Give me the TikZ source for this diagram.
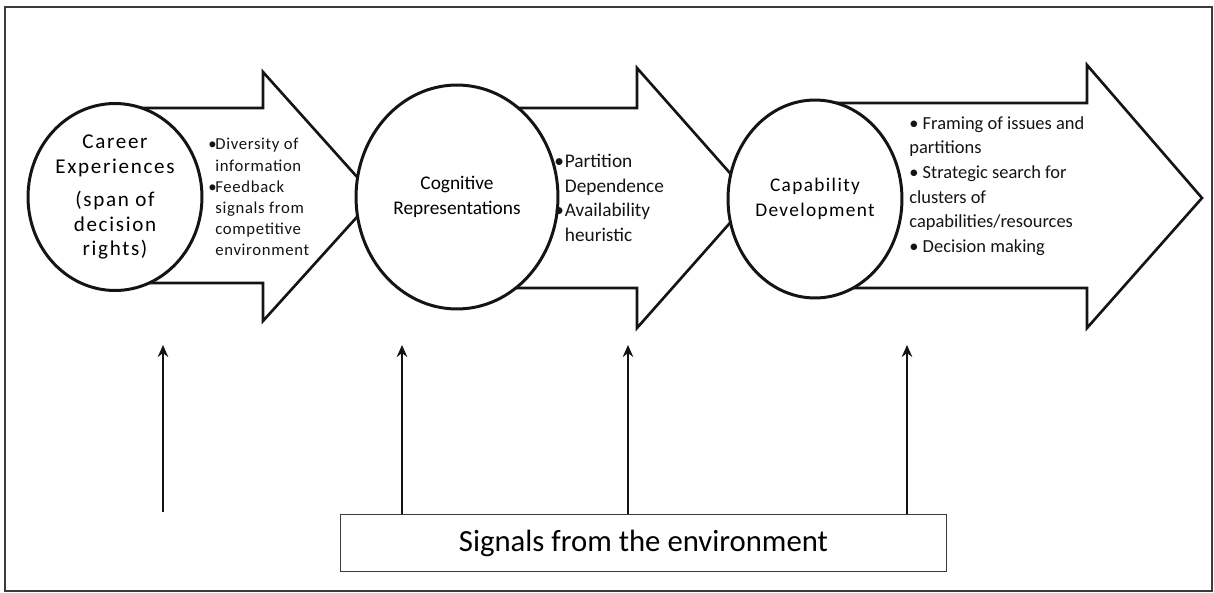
\documentclass[tikz,border=0pt]{standalone}
\usepackage{fontspec}
\setmainfont{Carlito}
\usetikzlibrary{arrows.meta,positioning,shapes.geometric}
\definecolor{ink}{RGB}{20,20,20}
\definecolor{rim}{RGB}{60,60,60}
\tikzset{
  x=0.02cm,y=-0.02cm,
  frame/.style={draw=rim,line width=1pt},
  flowarrow/.style={draw=ink,fill=white,line width=1.5pt,line join=miter},
  stage/.style={ellipse,draw=ink,fill=white,line width=1.7pt,inner sep=0pt,
    align=center,font=\fontsize{11}{14}\selectfont},
  points/.style={anchor=west,align=left,inner sep=0pt,text=ink},
  signalbox/.style={draw=rim,line width=0.7pt,fill=white,minimum width=12.12cm,
    minimum height=1.14cm,font=\fontsize{17.5}{20}\selectfont},
  sig/.style={-{Stealth[length=2.4mm,width=2.1mm]},draw=ink,line width=1pt},
}
\newcommand{\bul}{\makebox[4pt][l]{\textbullet}}
\begin{document}
\begin{tikzpicture}
    \useasboundingbox (0,0) rectangle (1214,592);
    \draw[frame] (5,7) rectangle (1212,591);
    % big arrows
    \draw[flowarrow] (115,108) -- (263,108) -- (263,72) -- (375,197) -- (263,321) -- (263,283) -- (115,283) -- cycle;
    \draw[flowarrow] (457,108) -- (637,108) -- (637,68) -- (752,198) -- (637,328) -- (637,288) -- (457,288) -- cycle;
    \draw[flowarrow] (815,103) -- (1087,103) -- (1087,65) -- (1202,198) -- (1087,328) -- (1087,288) -- (815,288) -- cycle;
    % stages
    \node[stage,minimum width=3.48cm,minimum height=3.74cm,
      font=\fontsize{12}{14}\selectfont\addfontfeature{LetterSpace=8}] (career) at (115,197)
      {Career\\Experiences\\[5pt](span of\\decision\\rights)};
    \node[stage,minimum width=4.04cm,minimum height=4.48cm] (cognitive) at (457,197)
      {Cognitive\\Representations};
    \node[stage,minimum width=3.48cm,minimum height=3.96cm,
      font=\fontsize{11}{14.5}\selectfont\addfontfeature{LetterSpace=7}] (capability) at (815,199)
      {Capability\\Development};
    % bullet texts
    \node[points,font=\fontsize{9.5}{12}\selectfont\addfontfeature{LetterSpace=4}] (info) at (208,197)
      {\bul Diversity of\\\hspace{4pt}information\\\bul Feedback\\\hspace{4pt}signals from\\\hspace{4pt}competitive\\\hspace{4pt}environment};
    \node[points,font=\fontsize{11}{14}\selectfont] (bias) at (554,198)
      {\bul\hspace{2pt}Partition\\\hspace{6pt}Dependence\\\bul\hspace{2pt}Availability\\\hspace{6pt}heuristic};
    \node[points,font=\fontsize{10.5}{14}\selectfont] (tasks) at (909,186)
      {\textbullet\ Framing of issues and\\partitions\\\textbullet\ Strategic search for\\clusters of\\capabilities/resources\\\textbullet\ Decision making};
    % environment
    \node[signalbox] (signals) at (643.5,543) {Signals from the environment};
    \coordinate (foot0) at (163,512);
    \coordinate (top0) at (163,345);
    \draw[sig] (foot0) -- (top0);
    \foreach \x [count=\i] in {402,628,907}{
      \coordinate (top\i) at (\x,345);
      \draw[sig] (signals.north -| top\i) -- (top\i);
    }
\end{tikzpicture}
\end{document}
